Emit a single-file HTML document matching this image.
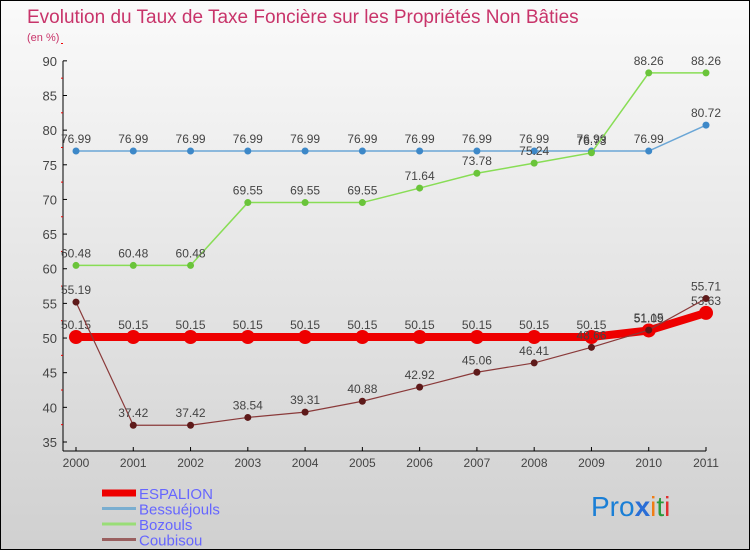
<!DOCTYPE html>
<html><head><meta charset="utf-8"><style>
body{margin:0}
#c{width:750px;height:550px;position:relative;box-sizing:border-box;border:1px solid #000;background:linear-gradient(#fafafa,#d0d0d0);font-family:"Liberation Sans",sans-serif;overflow:hidden}
</style></head><body>
<div id="c">
<svg id="s" width="750" height="550" style="position:absolute;left:0;top:0">
<text x="26" y="22" font-size="19" fill="#c8346a">Evolution du Taux de Taxe Foncière sur les Propriétés Non Bâties</text>
<text x="26" y="40" font-size="11" fill="#c8346a">(en %)</text>
<g id="g"></g>
<text x="590" y="515" font-size="28" fill="#1a7fd6">Pro<tspan fill="#2a6ed6" font-weight="bold">x</tspan><tspan fill="#f07d14">i</tspan><tspan fill="#2a9a3a">t</tspan><tspan fill="#e03030">i</tspan></text>
</svg>
</div>
<script>
const years=[2000,2001,2002,2003,2004,2005,2006,2007,2008,2009,2010,2011];
const espalion=[50.15,50.15,50.15,50.15,50.15,50.15,50.15,50.15,50.15,50.15,51.09,53.63];
const bessuejouls=[76.99,76.99,76.99,76.99,76.99,76.99,76.99,76.99,76.99,76.99,76.99,80.72];
const bozouls=[60.48,60.48,60.48,69.55,69.55,69.55,71.64,73.78,75.24,76.73,88.26,88.26];
const coubisou=[55.19,37.42,37.42,38.54,39.31,40.88,42.92,45.06,46.41,48.66,51.15,55.71];
const yTicks=[35,40,45,50,55,60,65,70,75,80,85,90];
const NS="http://www.w3.org/2000/svg";
const g=document.getElementById('g');
const X=i=>75+i*(630/11);
const Y=v=>336-(v-50.15)*6.93;
function el(t,a,p){const e=document.createElementNS(NS,t);for(const k in a)e.setAttribute(k,a[k]);(p||g).appendChild(e);return e;}
let e;
e=el('line',{x1:62,y1:Y(90),x2:62,y2:450,stroke:'#000'});


e=el('line',{x1:62,y1:450,x2:705,y2:450,stroke:'#000'});


yTicks.forEach(v=>{
 el('line',{x1:62,y1:Y(v),x2:66,y2:Y(v),stroke:'#000'});
 el('line',{x1:60,y1:Y(v+2.5),x2:62,y2:Y(v+2.5),stroke:'#e00'});
 e=el('text',{x:56,y:Y(v)+5,'font-size':13,fill:'#444','text-anchor':'end'});
 e.textContent=v;
 
 
});
years.forEach((y,i)=>{
 el('line',{x1:X(i),y1:446,x2:X(i),y2:450,stroke:'#000'});
 e=el('text',{x:X(i),y:466,'font-size':12,fill:'#444','text-anchor':'middle'});
 e.textContent=y;
 
 
});
function series(d,color,w,r,dot,name){
 e=el('polyline',{points:d.map((v,i)=>X(i)+','+Y(v)).join(' '),fill:'none',stroke:color,'stroke-width':w});
 
 
 d.forEach((v,i)=>{
  e=el('circle',{cx:X(i),cy:Y(v),r:r,fill:dot});
  
  
  e=el('text',{x:X(i),y:Y(v)-8,'font-size':12,fill:'#444','text-anchor':'middle'});
  e.textContent=v.toFixed(2);
  
  
 });
}
series(bessuejouls,'#6aa6d6',1.5,3.5,'#3d88c8','bessuejouls');
series(bozouls,'#88dd55',1.5,3.5,'#6ac43a','bozouls');
series(espalion,'#ee0000',8,7,'#ee0000','espalion');
series(coubisou,'#8a3a3a',1.2,3.5,'#5e1a1a','coubisou');
const legend=[['ESPALION','#ee0000',7],['Bessuéjouls','#7aaed0',3],['Bozouls','#99dd77',3],['Coubisou','#9a6060',3]];
legend.forEach((l,i)=>{
 const y=492+i*15.5;
 e=el('line',{x1:101,y1:y,x2:135,y2:y,stroke:l[1],'stroke-width':l[2]});
 
 
 e=el('text',{x:138,y:y+6,'font-size':15,fill:'#6666ff'});
 e.textContent=l[0];
 
 
});
</script>
</body></html>
